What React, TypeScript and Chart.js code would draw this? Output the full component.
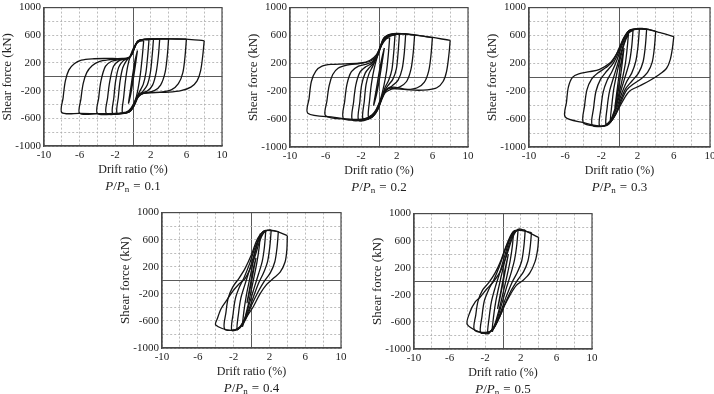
import React, { useEffect, useRef } from 'react';
import { Chart, registerables } from 'chart.js';

Chart.register(...registerables);

const SERIF = '"Liberation Serif", "Times New Roman", serif';
const INK = '#222';

// Axis ticks: grid every 2 % / 200 kN, labels only on these values
const xTickLabels = [-10, -6, -2, 2, 6, 10];
const yTickLabels = [1000, 600, 200, -200, -600, -1000];

// Axial load ratios of the five specimens
const ratios = ['0.1', '0.2', '0.3', '0.4', '0.5'];

// Hysteresis loops: each loop is [drift %, shear kN, drift, shear, ...]
const loops01 = [
  [0.5, 380, 0.25, 150, 0, -60, -0.25, -250, -0.5, -380, -0.25, -160, 0, 60, 0.25, 250, 0.5, 380],
  [1.2, 520, 1.05, 300, 0.85, 60, 0.6, -150, 0.3, -320, -0.2, -450, -0.7, -505, -1.2, -510, -1.05, -300, -0.85, -60, -0.6, 150, -0.3, 300, 0.2, 450, 0.7, 510, 1.2, 520],
  [1.8, 535, 1.65, 300, 1.45, 60, 1.15, -110, 0.75, -210, 0.4, -300, 0.05, -420, -0.4, -500, -1, -522, -1.8, -525, -1.65, -300, -1.45, -60, -1.15, 130, -0.75, 230, -0.4, 280, -0.05, 360, 0.3, 470, 0.8, 530, 1.8, 535],
  [2.3, 540, 2.15, 300, 1.95, 60, 1.6, -120, 1.1, -210, 0.6, -260, 0.25, -350, -0.1, -450, -0.6, -515, -1.4, -530, -2.3, -530, -2.15, -300, -1.95, -60, -1.6, 140, -1.1, 230, -0.6, 265, -0.2, 310, 0.2, 440, 0.6, 520, 1.3, 540, 2.3, 540],
  [3, 545, 2.85, 300, 2.6, 60, 2.2, -120, 1.6, -205, 0.9, -240, 0.45, -310, 0.05, -430, -0.5, -512, -1.5, -535, -3, -530, -2.85, -300, -2.6, -60, -2.2, 150, -1.6, 230, -0.9, 255, -0.35, 285, 0.1, 400, 0.5, 510, 1.3, 542, 3, 545],
  [4, 548, 3.85, 300, 3.6, 60, 3.1, -120, 2.4, -200, 1.5, -230, 0.8, -255, 0.35, -330, 0, -440, -0.5, -512, -2, -535, -4, -530, -3.85, -300, -3.6, -60, -3.1, 150, -2.4, 225, -1.5, 250, -0.7, 262, -0.2, 305, 0.2, 430, 0.6, 520, 1.6, 545, 4, 548],
  [6, 545, 5.85, 300, 5.6, 60, 5.1, -100, 4.3, -190, 3.2, -220, 2, -230, 1.1, -245, 0.5, -300, 0.1, -420, -0.4, -505, -1.5, -532, -4, -532, -6, -528, -5.85, -320, -5.6, -100, -5.2, 60, -4.6, 160, -3.8, 220, -2.8, 245, -1.5, 258, -0.6, 270, -0.1, 330, 0.25, 450, 0.6, 522, 1.8, 545, 4, 547, 6, 545],
  [8, 520, 7.85, 320, 7.6, 90, 7.2, -60, 6.5, -150, 5.4, -200, 4, -222, 2.5, -228, 1.2, -235, 0.6, -290, 0.2, -400, -0.3, -490, -1, -522, -3, -532, -6, -528, -8, -515, -7.85, -300, -7.6, -60, -7.2, 100, -6.6, 190, -5.8, 240, -4.6, 260, -3, 265, -1.2, 265, -0.4, 280, 0.05, 380, 0.5, 500, 1.2, 538, 3, 548, 6, 545, 8, 520],
];

const loops02 = [
  [0.6, 420, 0.3, 170, 0, -60, -0.3, -260, -0.6, -400, -0.3, -170, 0, 60, 0.3, 260, 0.6, 420],
  [1.2, 570, 1.05, 330, 0.85, 90, 0.55, -120, 0.2, -300, -0.3, -460, -0.8, -540, -1.2, -560, -1.05, -320, -0.85, -90, -0.55, 120, -0.2, 290, 0.3, 460, 0.8, 550, 1.2, 570],
  [1.8, 610, 1.65, 350, 1.45, 110, 1.1, -40, 0.7, -140, 0.3, -290, -0.2, -450, -0.8, -570, -1.8, -600, -1.65, -340, -1.45, -100, -1.1, 60, -0.7, 160, -0.3, 280, 0.15, 440, 0.6, 570, 1.8, 610],
  [2.3, 625, 2.15, 360, 1.95, 120, 1.55, -30, 1, -120, 0.5, -220, 0.1, -380, -0.4, -520, -1.2, -600, -2.3, -615, -2.15, -350, -1.95, -110, -1.55, 60, -1, 150, -0.5, 220, -0.1, 330, 0.4, 500, 1, 600, 2.3, 625],
  [3, 625, 2.85, 360, 2.6, 120, 2.15, -40, 1.5, -120, 0.8, -180, 0.35, -290, -0.1, -440, -0.7, -560, -1.7, -610, -3, -610, -2.85, -350, -2.6, -110, -2.15, 70, -1.5, 150, -0.8, 200, -0.3, 280, 0.2, 440, 0.7, 580, 1.6, 625, 3, 625],
  [4, 605, 3.85, 360, 3.6, 120, 3.1, -60, 2.3, -140, 1.4, -170, 0.7, -220, 0.25, -340, -0.2, -480, -0.9, -580, -2.2, -612, -4, -590, -3.85, -340, -3.6, -100, -3.1, 80, -2.3, 160, -1.4, 190, -0.7, 225, -0.2, 320, 0.3, 480, 0.9, 590, 2.2, 625, 4, 605],
  [6, 570, 5.85, 330, 5.6, 100, 5.1, -70, 4.3, -150, 3.2, -175, 2, -165, 1.1, -160, 0.5, -240, 0.05, -380, -0.5, -520, -1.5, -595, -3.5, -600, -6, -550, -5.85, -340, -5.6, -120, -5.2, 40, -4.6, 130, -3.6, 175, -2.2, 198, -1, 230, -0.3, 300, 0.2, 460, 0.7, 580, 2, 625, 4, 605, 6, 570],
  [8, 530, 7.85, 320, 7.6, 90, 7.2, -60, 6.5, -150, 5.4, -180, 4, -185, 2.8, -170, 1.6, -140, 0.8, -180, 0.3, -300, -0.2, -440, -0.8, -550, -2.5, -610, -5, -575, -8, -515, -7.85, -300, -7.6, -60, -7.1, 90, -6.4, 160, -5.4, 185, -3.8, 192, -2, 205, -1, 245, -0.3, 320, 0.25, 460, 0.8, 565, 2.5, 625, 5, 590, 8, 530],
];

const loops03 = [
  [0.5, 420, 0.25, 150, 0, -80, -0.25, -280, -0.5, -430, -0.25, -170, 0, 80, 0.25, 270, 0.5, 420],
  [1, 640, 0.85, 420, 0.65, 200, 0.35, 0, 0, -200, -0.45, -430, -1, -620, -0.85, -400, -0.65, -180, -0.35, 20, 0, 220, 0.45, 450, 1, 640],
  [1.5, 680, 1.35, 440, 1.1, 220, 0.7, 40, 0.25, -150, -0.3, -390, -0.9, -600, -1.5, -670, -1.35, -420, -1.1, -200, -0.7, -20, -0.25, 170, 0.3, 410, 0.9, 620, 1.5, 680],
  [2.2, 700, 2.05, 450, 1.8, 230, 1.35, 60, 0.8, -60, 0.25, -230, -0.35, -450, -1.1, -650, -2.2, -700, -2.05, -440, -1.8, -210, -1.35, -40, -0.8, 90, -0.25, 260, 0.35, 480, 1, 660, 2.2, 700],
  [3, 690, 2.85, 440, 2.6, 220, 2.1, 60, 1.4, -50, 0.7, -160, 0.15, -320, -0.5, -540, -1.3, -680, -3, -690, -2.85, -430, -2.6, -200, -2.1, -30, -1.4, 90, -0.7, 200, -0.1, 360, 0.5, 570, 1.2, 680, 3, 690],
  [4, 660, 3.85, 420, 3.6, 210, 3.1, 70, 2.4, -20, 1.5, -100, 0.8, -180, 0.2, -340, -0.5, -550, -1.4, -690, -2.5, -700, -4, -650, -3.85, -400, -3.6, -180, -3.1, -30, -2.4, 60, -1.5, 140, -0.8, 220, -0.2, 370, 0.45, 560, 1.2, 680, 2.5, 700, 4, 660],
  [6, 585, 5.85, 420, 5.6, 250, 5.2, 130, 4.4, 40, 3.3, -50, 2.2, -125, 1.1, -200, 0.4, -330, -0.3, -500, -1, -640, -2, -700, -4, -650, -6, -570, -5.85, -350, -5.65, -140, -5.2, 0, -4.5, 50, -3.3, 80, -2.2, 115, -1.1, 200, -0.4, 320, 0.2, 470, 0.75, 610, 1.5, 680, 3, 690, 4.5, 640, 6, 585],
];

const loops04 = [
  [0.5, 330, 0.25, 160, 0, -20, -0.25, -190, -0.5, -330, -0.25, -150, 0, 30, 0.25, 200, 0.5, 330],
  [1, 690, 0.85, 480, 0.6, 260, 0.3, 60, 0, -130, -0.4, -380, -1, -680, -0.85, -460, -0.6, -240, -0.3, -40, 0, 150, 0.4, 410, 1, 690],
  [1.6, 740, 1.45, 500, 1.2, 280, 0.8, 100, 0.35, -90, -0.2, -330, -0.8, -580, -1.6, -730, -1.45, -490, -1.2, -270, -0.8, -90, -0.35, 100, 0.2, 340, 0.8, 600, 1.6, 740],
  [2.2, 740, 2.05, 500, 1.8, 280, 1.35, 110, 0.8, -40, 0.2, -250, -0.5, -500, -1.3, -700, -2.2, -740, -2.05, -490, -1.8, -270, -1.35, -100, -0.8, 50, -0.2, 250, 0.5, 520, 1.3, 720, 2.2, 740],
  [3, 720, 2.85, 480, 2.6, 270, 2.1, 110, 1.4, -20, 0.7, -180, 0, -370, -0.7, -590, -1.5, -720, -3, -720, -2.85, -470, -2.6, -260, -2.1, -100, -1.4, 30, -0.7, 180, 0, 380, 0.7, 620, 1.5, 735, 3, 720],
  [4, 660, 3.95, 450, 3.75, 270, 3.2, 120, 2.45, 30, 1.7, -60, 0.95, -200, 0.2, -390, -0.55, -540, -1.3, -690, -2.4, -740, -4, -660, -3.8, -560, -3.4, -420, -2.8, -300, -2.2, -180, -1.5, -70, -0.7, 30, -0.15, 170, 0.4, 360, 0.95, 590, 1.5, 720, 2.5, 735, 4, 660],
];

const loops05 = [
  [0.6, 400, 0.3, 190, 0, -20, -0.3, -220, -0.6, -400, -0.3, -190, 0, 20, 0.3, 220, 0.6, 400],
  [1.2, 740, 1.05, 520, 0.8, 300, 0.45, 80, 0.05, -150, -0.5, -450, -1.2, -740, -1.05, -510, -0.8, -290, -0.45, -70, -0.05, 160, 0.5, 460, 1.2, 740],
  [1.7, 770, 1.55, 540, 1.3, 320, 0.9, 120, 0.4, -90, -0.2, -360, -0.9, -640, -1.7, -775, -1.55, -530, -1.3, -300, -0.9, -100, -0.4, 110, 0.2, 380, 0.9, 660, 1.7, 770],
  [2.5, 760, 2.35, 520, 2.1, 300, 1.6, 130, 1, -20, 0.35, -230, -0.4, -500, -1.2, -720, -2.5, -760, -2.35, -510, -2.1, -290, -1.6, -120, -1, 30, -0.35, 240, 0.4, 520, 1.2, 730, 2.5, 760],
  [3.2, 720, 3.05, 500, 2.8, 300, 2.3, 140, 1.6, 10, 0.9, -140, 0.2, -340, -0.5, -560, -1.4, -740, -3.2, -720, -3.05, -490, -2.8, -290, -2.3, -130, -1.6, -20, -0.9, 120, -0.2, 320, 0.5, 570, 1.3, 750, 3.2, 720],
  [4, 650, 3.9, 480, 3.6, 290, 3, 120, 2.3, 20, 1.5, -60, 0.8, -200, 0.2, -350, -0.3, -500, -1, -680, -1.9, -775, -4, -640, -3.7, -450, -3.1, -300, -2.6, -240, -1.8, -110, -1.1, -10, -0.35, 135, 0.4, 380, 1, 620, 1.5, 745, 2, 770, 4, 650],
];

// Plot-area placement of each panel on the page
const panels = [
  { loops: loops01, ratio: ratios[0], left: 44, top: 6, width: 178, height: 140 },
  { loops: loops02, ratio: ratios[1], left: 290, top: 6, width: 178, height: 141 },
  { loops: loops03, ratio: ratios[2], left: 529, top: 6, width: 181, height: 141 },
  { loops: loops04, ratio: ratios[3], left: 162, top: 211, width: 179, height: 137 },
  { loops: loops05, ratio: ratios[4], left: 414, top: 212, width: 178, height: 137 },
];

const Y_AXIS_W = 44;
const X_AXIS_H = 31;
const PAD = { left: 0, top: 8, right: 10, bottom: 20 };

function toPoints(flat: number[]) {
  const pts: { x: number; y: number }[] = [];
  for (let i = 0; i < flat.length; i += 2) pts.push({ x: flat[i], y: flat[i + 1] });
  return pts;
}

const isZero = (v: any) => v !== undefined && Math.abs(v) < 1e-9;

// Solid frame around the plotting area
const framePlugin = {
  id: 'plotFrame',
  beforeDatasetsDraw(chart: any) {
    const { ctx, chartArea: a } = chart;
    ctx.save();
    ctx.strokeStyle = '#4a4a4a';
    ctx.lineWidth = 1.2;
    ctx.strokeRect(a.left, a.top, a.right - a.left, a.bottom - a.top);
    ctx.restore();
  },
};

// "P/Pn = value" caption under the axis title
const captionPlugin = {
  id: 'ratioCaption',
  afterDraw(chart: any, _args: any, opts: any) {
    const { ctx, chartArea: a } = chart;
    const size = 13;
    const parts = [
      { t: 'P', f: `italic ${size}px ${SERIF}`, dy: 0, gap: 0 },
      { t: '/', f: `${size}px ${SERIF}`, dy: 0, gap: 0 },
      { t: 'P', f: `italic ${size}px ${SERIF}`, dy: 0, gap: 0 },
      { t: 'n', f: `9px ${SERIF}`, dy: 2, gap: 4 },
      { t: '=', f: `${size}px ${SERIF}`, dy: 0, gap: 4 },
      { t: String(opts.value), f: `${size}px ${SERIF}`, dy: 0, gap: 0 },
    ];
    ctx.save();
    let total = 0;
    const widths = parts.map((p) => {
      ctx.font = p.f;
      const w = ctx.measureText(p.t).width;
      total += w + p.gap;
      return w;
    });
    let x = (a.left + a.right) / 2 - total / 2;
    const y = a.bottom + 43.5;
    ctx.fillStyle = INK;
    ctx.textBaseline = 'alphabetic';
    ctx.textAlign = 'left';
    parts.forEach((p, i) => {
      ctx.font = p.f;
      ctx.fillText(p.t, x, y + p.dy);
      x += widths[i] + p.gap;
    });
    ctx.restore();
  },
};

function HysteresisPanel({ panel }: { panel: (typeof panels)[number] }) {
  const ref = useRef<HTMLCanvasElement | null>(null);
  const cw = Y_AXIS_W + panel.width + PAD.right;
  const ch = PAD.top + panel.height + X_AXIS_H + PAD.bottom;

  useEffect(() => {
    if (!ref.current) return;
    const gridColor = (c: any) => (isZero(c.tick?.value) ? '#5a5a5a' : '#ababab');
    const gridWidth = (c: any) => (isZero(c.tick?.value) ? 1 : 0.8);
    const gridDash = (c: any) => (c.tick && !isZero(c.tick.value) ? [2, 2] : []);

    const chart = new Chart(ref.current, {
      type: 'scatter',
      data: {
        datasets: panel.loops.map((loop) => ({
          data: toPoints(loop),
          showLine: true,
          borderColor: '#141414',
          borderWidth: 1.3,
          pointRadius: 0,
          pointHoverRadius: 0,
          tension: 0.3,
          fill: false,
        })),
      },
      options: {
        responsive: false,
        animation: false,
        events: [],
        layout: { padding: PAD },
        plugins: {
          legend: { display: false },
          tooltip: { enabled: false },
          ratioCaption: { value: panel.ratio },
        } as any,
        scales: {
          x: {
            type: 'linear',
            min: -10,
            max: 10,
            afterFit: (s: any) => {
              s.height = X_AXIS_H;
            },
            ticks: {
              stepSize: 2,
              autoSkip: false,
              maxRotation: 0,
              minRotation: 0,
              padding: 3,
              color: INK,
              font: { family: SERIF, size: 11, lineHeight: 1.2 },
              callback: (v: any) => (xTickLabels.includes(Math.round(Number(v))) ? String(Math.round(Number(v))) : ''),
            },
            grid: { color: gridColor, lineWidth: gridWidth, drawTicks: false },
            border: { display: true, color: '#4a4a4a', width: 1.2, dash: gridDash },
            title: {
              display: true,
              text: 'Drift ratio (%)',
              color: INK,
              font: { family: SERIF, size: 12, lineHeight: 1.2 },
              padding: { top: 0, bottom: 0 },
            },
          },
          y: {
            type: 'linear',
            min: -1000,
            max: 1000,
            afterFit: (s: any) => {
              s.width = Y_AXIS_W;
            },
            ticks: {
              stepSize: 200,
              autoSkip: false,
              padding: 3,
              color: INK,
              font: { family: SERIF, size: 11, lineHeight: 1.2 },
              callback: (v: any) => (yTickLabels.includes(Math.round(Number(v))) ? String(Math.round(Number(v))) : ''),
            },
            grid: { color: gridColor, lineWidth: gridWidth, drawTicks: false },
            border: { display: true, color: '#4a4a4a', width: 1.2, dash: gridDash },
            title: {
              display: true,
              text: 'Shear force (kN)',
              color: INK,
              font: { family: SERIF, size: 13, lineHeight: 1.2 },
              padding: { top: 0, bottom: 0 },
            },
          },
        },
      } as any,
      plugins: [framePlugin, captionPlugin],
    });
    return () => chart.destroy();
  }, [panel]);

  return (
    <canvas
      ref={ref}
      width={cw}
      height={ch}
      style={{
        position: 'absolute',
        left: panel.left - Y_AXIS_W,
        top: panel.top - PAD.top,
        width: cw,
        height: ch,
      }}
    />
  );
}

export default function App() {
  return (
    <div
      style={{
        position: 'fixed',
        left: 0,
        top: 0,
        width: 714,
        height: 394,
        background: '#fff',
        overflow: 'hidden',
      }}
    >
      {panels.map((p) => (
        <HysteresisPanel key={p.ratio} panel={p} />
      ))}
    </div>
  );
}
